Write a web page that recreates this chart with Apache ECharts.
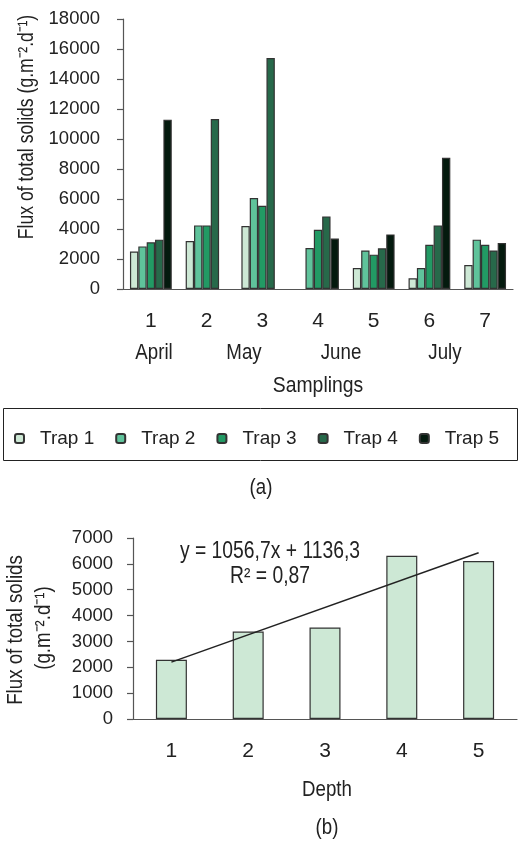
<!DOCTYPE html>
<html>
<head>
<meta charset="utf-8">
<script src="https://cdn.jsdelivr.net/npm/echarts@6/dist/echarts.min.js"></script>
<style>
  html, body { margin: 0; padding: 0; background: #fff; }
  #chart { width: 521px; height: 843px; }
</style>
</head>
<body>
<div id="chart"></div>
<script>
// (a) flux per sampling and trap
var samplings = ['1', '2', '3', '4', '5', '6', '7'];
var trapNames = ['Trap 1', 'Trap 2', 'Trap 3', 'Trap 4', 'Trap 5'];
var trap1 = [2500, 3200, 4200, null, 1400, 710, 1600];
var trap2 = [2840, 4240, 6070, 2730, 2570, 1400, 3290];
var trap3 = [3110, 4240, 5550, 3950, 2290, 2950, 2950];
var trap4 = [3290, 11330, 15400, 4840, 2710, 4240, 2570];
var trap5 = [11290, null, null, 3370, 3640, 8750, 3070];
var months = ['April', 'May', 'June', 'July'];

// (b) flux per depth
var depths = ['1', '2', '3', '4', '5'];
var depthFlux = [2290, 3380, 3540, 6310, 6110];
// trend line ends (y = 1056,7x + 1136,3)
var trendEnds = [2200, null, null, null, 6430];

var trapColors = ['#cde8d5', '#5fc39b', '#229a64', '#27694a', '#041a0e'];
var font = "'Liberation Sans', Arial, sans-serif";
var txt = '#222';
var axisCol = '#555';

var myChart = echarts.init(document.getElementById('chart'));

var trapData = [trap1, trap2, trap3, trap4, trap5];
var series = trapData.map(function (d, i) {
    return {
        name: trapNames[i],
        type: 'bar',
        xAxisIndex: 0,
        yAxisIndex: 0,
        barGap: '0%',
        barCategoryGap: '25%',
        itemStyle: { color: trapColors[i], borderColor: '#333', borderWidth: 1.2 },
        data: d
    };
});
series.push({
    name: 'depth',
    type: 'bar',
    xAxisIndex: 1,
    yAxisIndex: 1,
    barWidth: 31,
    itemStyle: { color: '#cde8d5', borderColor: '#333', borderWidth: 1.2 },
    data: depthFlux
});
series.push({
    name: 'trend',
    type: 'line',
    xAxisIndex: 1,
    yAxisIndex: 1,
    connectNulls: true,
    symbol: 'none',
    lineStyle: { color: '#222', width: 1.5 },
    data: trendEnds
});

var axisLine = { lineStyle: { color: axisCol, width: 1.2 } };
var axisTick = { length: 6, lineStyle: { color: axisCol, width: 1.2 } };

// free text, narrowed a bit with scaleX to look like the condensed face of the original
function label(x, y, text, size, sx, rot) {
    return {
        type: 'text', x: x, y: y, scaleX: sx, rotation: rot || 0,
        style: { text: text, fill: txt, font: size + 'px ' + font, align: 'center', verticalAlign: 'middle' }
    };
}

function plain(v) { return String(v); }

myChart.setOption({
    animation: false,
    textStyle: { fontFamily: font },
    grid: [
        { left: 123, right: 8, top: 19, height: 270 },
        { left: 133, right: 4, top: 538, height: 181 }
    ],
    legend: {
        data: trapNames,
        left: 9,
        top: 424,
        itemWidth: 9,
        itemHeight: 9,
        itemGap: 21,
        textStyle: { color: txt, fontSize: 19, fontFamily: font, padding: [0, 0, 0, 11] }
    },
    xAxis: [{
        gridIndex: 0,
        type: 'category',
        data: samplings,
        axisLine: axisLine,
        axisTick: axisTick,
        axisLabel: { color: txt, fontSize: 21, margin: 22 }
    }, {
        gridIndex: 1,
        type: 'category',
        data: depths,
        axisLine: axisLine,
        axisTick: axisTick,
        axisLabel: { color: txt, fontSize: 21, margin: 22 }
    }],
    yAxis: [{
        gridIndex: 0,
        type: 'value',
        min: 0,
        max: 18000,
        interval: 2000,
        axisLine: { show: true, lineStyle: axisLine.lineStyle },
        axisTick: { show: true, length: 6, lineStyle: axisTick.lineStyle },
        splitLine: { show: false },
        axisLabel: { color: txt, fontSize: 18.5, margin: 23, formatter: plain }
    }, {
        gridIndex: 1,
        type: 'value',
        min: 0,
        max: 7000,
        interval: 1000,
        axisLine: { show: true, lineStyle: axisLine.lineStyle },
        axisTick: { show: true, length: 6, lineStyle: axisTick.lineStyle },
        splitLine: { show: false },
        axisLabel: { color: txt, fontSize: 18.5, margin: 20, formatter: plain }
    }],
    graphic: [
        label(27, 127, 'Flux of total solids (g.m\u207B\u00B2.d\u207B\u00B9)', 22, 0.8, Math.PI / 2),
        label(154, 353, months[0], 22, 0.85),
        label(244, 353, months[1], 22, 0.85),
        label(341, 353, months[2], 22, 0.85),
        label(445, 353, months[3], 22, 0.85),
        label(318, 386, 'Samplings', 22, 0.88),
        { type: 'rect', shape: { x: 3.5, y: 408.5, width: 514, height: 52 }, style: { fill: 'none', stroke: '#222', lineWidth: 1 } },
        label(261, 488, '(a)', 22, 0.85),
        label(16, 630, 'Flux of total solids', 22, 0.85, Math.PI / 2),
        label(44, 628, '(g.m\u207B\u00B2.d\u207B\u00B9)', 22, 0.85, Math.PI / 2),
        label(270, 552, 'y = 1056,7x + 1136,3', 23, 0.84),
        label(270, 577, 'R\u00B2 = 0,87', 23, 0.84),
        label(327, 790, 'Depth', 22, 0.85),
        label(327, 828, '(b)', 22, 0.85)
    ],
    series: series
});
</script>
</body>
</html>
